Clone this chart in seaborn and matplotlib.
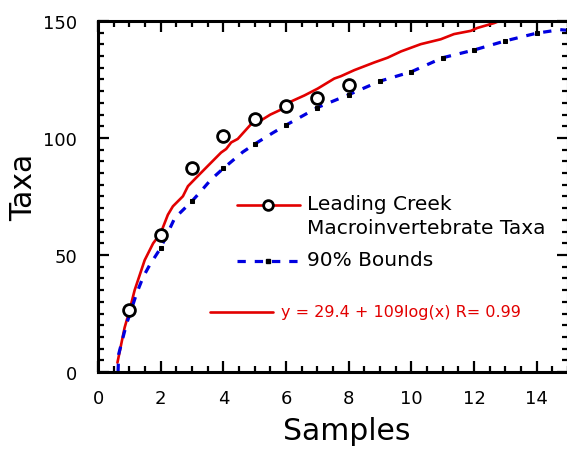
import matplotlib
matplotlib.use("Agg")
import matplotlib.pyplot as plt
import seaborn as sns
import pandas as pd

# observed taxa (open circles)
obs_samples = [1, 2, 3, 4, 5, 6, 7, 8]
obs_taxa = [26.5, 58.5, 87, 101, 108, 113.5, 117, 122.5]

# fitted curve
fit_x = [0.62, 0.85, 1.0, 1.17, 1.49, 1.76, 2.0, 2.23, 2.39, 2.71, 2.87, 3.08, 3.5,
         3.93, 4.09, 4.25, 4.46, 4.89, 5.2, 5.5, 5.9, 6.16, 6.59, 7.01, 7.54, 7.75,
         8.18, 8.82, 9.24, 9.67, 10.3, 10.94, 11.36, 11.9, 12.1, 12.64, 12.9]
fit_y = [4, 19, 26, 35, 47.8, 55, 59.3, 67.2, 70.8, 75.1, 79.4, 82.3, 88,
         93.8, 95.3, 98.1, 99.6, 106, 107.5, 110, 112.5, 115.6, 118.2, 121.1, 125.4, 126.4,
         129, 132.3, 134.3, 137, 140.1, 142.2, 144.4, 145.8, 147, 149.1, 150.5]

# 90% bound curve
bound_x = [0.64, 0.66, 0.91, 1.0, 1.23, 1.44, 1.65, 2.0, 2.45, 3.0, 3.3, 3.61, 4.0,
           4.62, 5.0, 5.58, 6.0, 6.59, 7.0, 8.0, 9.0, 10.0, 11.0, 12.0, 13.0, 14.0,
           14.75, 15.0]
bound_y = [0, 7.6, 20.6, 24, 33.5, 40.6, 45.7, 53, 65.8, 73, 77.5, 82.3, 87,
           94, 97.4, 102.2, 105.5, 109.9, 113, 118.5, 124.3, 128.3, 134.3, 137.6, 141.5, 144.8,
           146.3, 146]

W, H = 567, 456
sns.set_style("ticks")
plt.rcParams['font.family'] = ['DejaVu Sans']
plt.rcParams['text.color'] = 'black'
plt.rcParams['axes.labelcolor'] = 'black'

fig = plt.figure(figsize=(W / 100, H / 100), dpi=100)
ax = fig.add_axes([98 / W, 1 - 373 / H, (568 - 98) / W, (373 - 22) / H])

red = '#e20000'
blue = '#0000e0'

sns.lineplot(x=fit_x, y=fit_y, ax=ax, color=red, lw=1.9, sort=False)
ints = [i for i, v in enumerate(bound_x) if float(v).is_integer() and v > 1]
sns.lineplot(x=bound_x, y=bound_y, ax=ax, color=blue, lw=2.3, sort=False,
             dashes=False, linestyle=(0, (2.6, 2.8)), marker='s', markersize=2.5,
             markerfacecolor='black', markeredgecolor='black', markevery=ints)
ax.plot(obs_samples, obs_taxa, 'o', ms=8.5, mfc='white', mec='black', mew=2, zorder=5)

ax.set_xlim(0, 15)
ax.set_ylim(0, 150)
ax.set_xticks(range(0, 15, 2))
ax.set_xticks([i * 0.5 for i in range(31)], minor=True)
ax.set_yticks([0, 50, 100, 150])
ax.set_yticks(range(0, 151, 5), minor=True)
ax.tick_params(which='both', direction='in', top=True, right=True, width=1.6,
               labelsize=13, color='black', labelcolor='black')
ax.tick_params(which='major', length=8)
ax.tick_params(which='minor', length=4.5)
ax.tick_params(axis='x', pad=12)
ax.tick_params(axis='y', pad=15)
for s in ax.spines.values():
    s.set_linewidth(2.2)
    s.set_color('black')

ax.set_xlabel('Samples', fontsize=21.5, va='center', color='black')
ax.set_ylabel('Taxa', fontsize=21.5, va='center', color='black')
ax.xaxis.set_label_coords((347 - 98) / (568 - 98), -(432 - 373) / (373 - 22))
ax.yaxis.set_label_coords(-(98 - 24) / (568 - 98), (373 - 187) / (373 - 22))


def fx(px):
    return px / W


def fy(py):
    return 1 - py / H


# legend drawn by hand
ax.plot([fx(237), fx(300)], [fy(206), fy(206)], color=red, lw=1.9,
        transform=fig.transFigure, clip_on=False)
ax.plot([fx(268)], [fy(206)], 'o', ms=7, mfc='white', mec='black', mew=2,
        transform=fig.transFigure, clip_on=False)
ax.plot([fx(237), fx(300)], [fy(262), fy(262)], color=blue, lw=2.3,
        linestyle=(0, (2.6, 2.8)), transform=fig.transFigure, clip_on=False)
ax.plot([fx(268)], [fy(262)], 's', ms=2.5, color='black',
        transform=fig.transFigure, clip_on=False)
ax.plot([fx(210), fx(273)], [fy(313), fy(313)], color=red, lw=1.9,
        transform=fig.transFigure, clip_on=False)

fig.text(fx(307), fy(204), 'Leading Creek', fontsize=14.5, va='center', color='black')
fig.text(fx(307), fy(229), 'Macroinvertebrate Taxa', fontsize=14.5, va='center', color='black')
fig.text(fx(307), fy(260), '90% Bounds', fontsize=14.5, va='center', color='black')
fig.text(fx(281), fy(312), 'y = 29.4 + 109log(x) R= 0.99', fontsize=11.5, va='center', color=red)

fig.savefig('out.png', dpi=100)
